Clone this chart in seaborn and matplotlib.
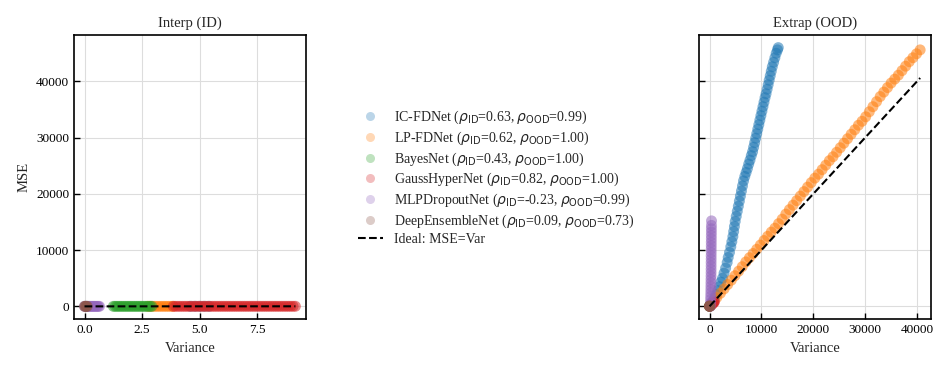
import numpy as np
import pandas as pd
import seaborn as sns
import matplotlib
matplotlib.use("Agg")
import matplotlib.pyplot as plt

sns.set_style("ticks")
plt.rcParams["font.family"] = ["Liberation Serif", "DejaVu Serif"]
plt.rcParams["mathtext.fontset"] = "dejavusans"
plt.rcParams["font.size"] = 10

models = ["IC-FDNet", "LP-FDNet", "BayesNet", "GaussHyperNet", "MLPDropoutNet", "DeepEnsembleNet"]
rho_id = ["0.63", "0.62", "0.43", "0.82", "-0.23", "0.09"]
rho_ood = ["0.99", "1.00", "1.00", "1.00", "0.99", "0.73"]
colors = ["#1f77b4", "#ff7f0e", "#2ca02c", "#d62728", "#9467bd", "#8c564b"]

# ---- in-distribution (Interp) readings: variance, mse
id_var = {
    "IC-FDNet": [4.6, 4.8, 5.0, 5.2, 5.4],
    "LP-FDNet": [2.75, 2.85, 2.95, 3.05, 3.15, 3.25, 3.35, 3.45, 3.55, 3.65, 3.75, 3.85],
    "BayesNet": [1.25, 1.33, 1.41, 1.49, 1.57, 1.65, 1.73, 1.81, 1.89, 1.97, 2.05, 2.13, 2.21,
                 2.29, 2.37, 2.45, 2.53, 2.61, 2.69, 2.77, 2.85, 2.92],
    "GaussHyperNet": [3.85, 3.95, 4.05, 4.15, 4.25, 4.35, 4.45, 4.55, 4.65, 4.75, 4.85, 4.95, 5.05,
                      5.15, 5.25, 5.35, 5.45, 5.55, 5.65, 5.75, 5.85, 5.95, 6.05, 6.15, 6.25, 6.35,
                      6.45, 6.55, 6.65, 6.75, 6.85, 6.95, 7.05, 7.15, 7.25, 7.35, 7.45, 7.55, 7.65,
                      7.75, 7.85, 7.95, 8.05, 8.15, 8.25, 8.35, 8.45, 8.55, 8.65, 8.75, 8.85, 8.95,
                      9.05, 9.15],
    "MLPDropoutNet": [0.0, 0.05, 0.1, 0.15, 0.2, 0.25, 0.3, 0.35, 0.4, 0.45, 0.5, 0.55, 0.6, 0.65],
    "DeepEnsembleNet": [0.0, 0.03, 0.06, 0.09, 0.12],
}
id_mse = {
    "IC-FDNet": [5.1, 5.6, 5.4, 6.0, 6.3],
    "LP-FDNet": [2.9, 3.2, 3.1, 3.4, 3.3, 3.6, 3.8, 3.7, 4.0, 4.1, 4.0, 4.2],
    "BayesNet": [1.1, 1.6, 1.3, 1.9, 1.5, 2.2, 1.7, 2.4, 2.0, 2.6, 2.1, 2.9, 2.3, 3.0, 2.6, 3.2,
                 2.8, 3.1, 2.7, 3.3, 2.9, 3.4],
    "GaussHyperNet": [3.6, 4.1, 4.0, 4.6, 4.2, 4.9, 4.7, 5.3, 4.8, 5.6, 5.1, 5.9, 5.4, 6.2,
                      5.7, 6.4, 6.0, 6.8, 6.3, 7.1, 6.5, 7.4, 6.9, 7.7, 7.1, 8.0, 7.5, 8.3,
                      7.7, 8.6, 8.0, 8.9, 8.3, 9.2, 8.6, 9.4, 8.8, 9.6, 9.0, 9.9, 9.3, 10.1,
                      9.5, 10.4, 9.8, 10.6, 10.0, 10.9, 10.2, 11.1, 10.5, 11.3, 10.7, 11.6],
    "MLPDropoutNet": [0.9, 0.6, 0.8, 0.4, 0.7, 0.5, 0.3, 0.6, 0.2, 0.4, 0.3, 0.1, 0.3, 0.2],
    "DeepEnsembleNet": [0.1, 0.1, 0.2, 0.2, 0.3],
}

# ---- out-of-distribution (Extrap) readings
ood_var = {
    "IC-FDNet": [0, 250, 500, 800, 1000, 1300, 1600, 1900, 2200, 2500, 2800, 3100, 3400, 3600, 3850,
                 4100, 4300, 4500, 4650, 4800, 4950, 5150, 5350, 5550, 5750, 5950, 6150, 6350, 6550,
                 6800, 7050, 7300, 7550, 7800, 8050, 8300, 8500, 8700, 8900, 9100, 9300, 9500, 9700,
                 9900, 10100, 10300, 10500, 10700, 10900, 11100, 11300, 11500, 11700, 11900, 12100,
                 12350, 12600, 12850, 13100, 13250],
    "LP-FDNet": [0, 700, 1400, 2100, 2800, 3500, 4200, 4900, 5600, 6300, 7000, 7700, 8400, 9100, 9800,
                 10500, 11200, 11900, 12600, 13300, 14000, 14700, 15400, 16100, 16800, 17500, 18200,
                 18900, 19600, 20300, 21000, 21700, 22400, 23100, 23800, 24500, 25200, 25900, 26600,
                 27300, 28000, 28700, 29400, 30100, 30800, 31500, 32200, 32900, 33600, 34300, 35000,
                 35700, 36400, 37100, 37800, 38500, 39200, 39900, 40600],
    "BayesNet": [20, 60, 100, 150, 200, 260, 320, 380],
    "GaussHyperNet": [50, 150, 250, 350, 450, 550, 650, 750, 850, 950],
    "MLPDropoutNet": [150, 180, 200, 220, 240, 250, 260, 270, 280, 290, 300, 300, 310, 310, 320, 320,
                      330, 330, 340, 340, 350, 350, 360, 360, 370, 380],
    "DeepEnsembleNet": [0, 10, 20, 30, 40],
}
ood_mse = {
    "IC-FDNet": [0, 400, 700, 1100, 1500, 2100, 2800, 3500, 4300, 5000, 5900, 6800, 7800, 8700, 9600,
                 10600, 11500, 12400, 13300, 14200, 15100, 16000, 16900, 17800, 18700, 19600, 20500,
                 21400, 22300, 23100, 23800, 24500, 25300, 26000, 26800, 27500, 28300, 29100, 29900,
                 30700, 31500, 32300, 33100, 33900, 34700, 35500, 36300, 37100, 37800, 38600, 39400,
                 40200, 41000, 41800, 42600, 43400, 44200, 45000, 45600, 46000],
    "LP-FDNet": [0, 780, 1560, 2330, 3100, 3880, 4650, 5450, 6250, 7050, 7900, 8650, 9400, 10150, 10900,
                 11700, 12450, 13200, 13900, 14700, 15500, 16400, 17200, 18000, 18800, 19600, 20400,
                 21200, 22000, 22800, 23500, 24300, 25100, 25900, 26600, 27400, 28200, 29000, 29800,
                 30600, 31400, 32200, 32900, 33700, 34600, 35500, 36400, 37300, 38100, 38900, 39700,
                 40400, 41100, 41900, 42700, 43500, 44200, 44900, 45600],
    "BayesNet": [20, 60, 110, 160, 210, 270, 330, 390],
    "GaussHyperNet": [40, 120, 200, 290, 380, 470, 560, 650, 740, 830],
    "MLPDropoutNet": [0, 600, 1200, 1800, 2400, 3000, 3600, 4200, 4800, 5400, 6000, 6600, 7200, 7800,
                      8400, 9000, 9600, 10200, 10800, 11400, 12000, 12600, 13200, 13800, 14400, 15200],
    "DeepEnsembleNet": [0, 15, 30, 40, 60],
}


def to_frame(var, mse):
    rows = []
    for m in models:
        for v, e in zip(var[m], mse[m]):
            rows.append((m, v, e))
    return pd.DataFrame(rows, columns=["model", "var", "mse"])


df_id = to_frame(id_var, id_mse)
df_ood = to_frame(ood_var, ood_mse)
palette = dict(zip(models, colors))

fig = plt.figure(figsize=(9.46, 3.73), dpi=100)
ax1 = fig.add_axes([0.0782, 0.144, 0.2452, 0.763])
ax2 = fig.add_axes([0.7389, 0.144, 0.2449, 0.763], sharey=ax1)

for ax, df, title in [(ax1, df_id, "Interp (ID)"), (ax2, df_ood, "Extrap (OOD)")]:
    sns.scatterplot(data=df, x="var", y="mse", hue="model", hue_order=models, palette=palette,
                    s=62, alpha=0.55, linewidth=0, ax=ax, legend=False, zorder=2)
    vmax = df["var"].max()
    ax.plot([0, vmax], [0, vmax], color="black", ls="--", lw=1.5, zorder=3)
    ax.set_title(title, fontsize=10.5)
    ax.set_xlabel("Variance", fontsize=10.5)
    ax.grid(True, color="#dddddd", lw=0.8)
    ax.set_axisbelow(True)
    ax.tick_params(direction="in", length=4, width=1, labelsize=9.5, colors="black")
    for sp in ax.spines.values():
        sp.set_linewidth(1.2)
        sp.set_color("black")

ax1.set_ylabel("MSE", fontsize=10.5)
ax2.set_ylabel("")
ax1.set_yticks([0, 10000, 20000, 30000, 40000])
ax1.set_xticks([0.0, 2.5, 5.0, 7.5])
ax2.set_xticks([0, 10000, 20000, 30000, 40000])
ax2.tick_params(labelleft=False)

handles = []
for m, c, a, b in zip(models, colors, rho_id, rho_ood):
    lab = m + r" ($\rho_{\mathrm{ID}}$=" + a + r", $\rho_{\mathrm{OOD}}$=" + b + ")"
    handles.append(plt.Line2D([], [], ls="", marker="o", ms=6.5, color=c, alpha=0.3,
                              markeredgewidth=0, label=lab))
handles.append(plt.Line2D([], [], color="black", ls="--", lw=1.5, label="Ideal: MSE=Var"))
fig.legend(handles=handles, loc="center left", bbox_to_anchor=(0.378, 0.524), frameon=False,
           fontsize=10, borderpad=0, borderaxespad=0, handlelength=1.8, handletextpad=0.8,
           labelspacing=0.24)

fig.savefig("out.png", dpi=100)
